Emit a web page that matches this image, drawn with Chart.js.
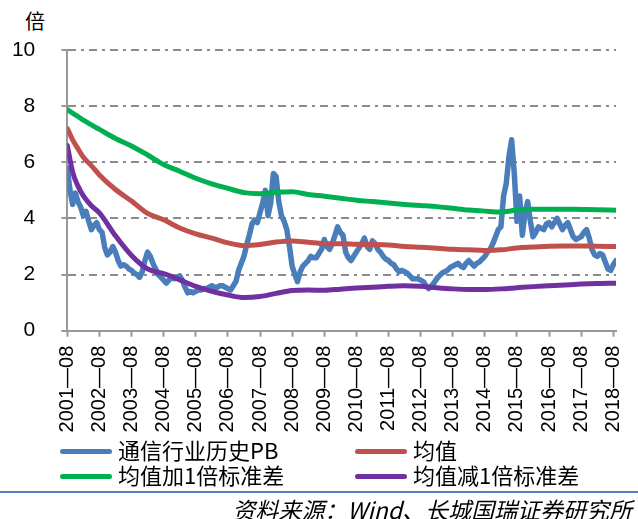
<!DOCTYPE html>
<html lang="zh-CN">
<head>
<meta charset="UTF-8">
<title>通信行业历史PB</title>
<script src="https://cdn.jsdelivr.net/npm/chart.js"></script>
<style>
  body { margin: 0; background: #fff; width: 638px; height: 519px; position: relative; overflow: hidden;
         font-family: "Noto Sans CJK SC", sans-serif; color: #000; }
  #wrap { position: absolute; left: 0; top: 0; width: 638px; height: 440px; }
  .unit { position: absolute; left: 25px; top: 9px; font-size: 20px; line-height: 24px; }
  .item { position: absolute; font-size: 22px; line-height: 24px; white-space: nowrap; }
  .item span { display: inline-block; width: 52px; height: 5px; border-radius: 3px; vertical-align: middle; margin-right: 6px; position: relative; top: -2px; }
  .rule { position: absolute; left: 0; top: 491px; width: 638px; height: 2px; background: #4F81BD; }
  .source { position: absolute; right: 6px; top: 496px; font-size: 23px; line-height: 26px; font-style: italic; }
</style>
</head>
<body>
<div class="unit">倍</div>
<div id="wrap"><canvas id="pbChart" width="638" height="440"></canvas></div>
<div class="item" style="left:60px;top:437px"><span style="background:#4A7EBB"></span>通信行业历史PB</div>
<div class="item" style="left:355px;top:437px"><span style="background:#C0504D"></span>均值</div>
<div class="item" style="left:60px;top:462px"><span style="background:#00B050"></span>均值加1倍标准差</div>
<div class="item" style="left:355px;top:462px"><span style="background:#7030A0"></span>均值减1倍标准差</div>
<div class="rule"></div>
<div class="source">资料来源：Wind、长城国瑞证券研究所</div>

<script>
// x 轴刻度 (每 12 个月一个)
const tickLabels = ['2001—08','2002—08','2003—08','2004—08','2005—08','2006—08','2007—08','2008—08','2009—08',
  '2010—08','2011—08','2012—08','2013—08','2014—08','2015—08','2016—08','2017—08','2018—08'];

// 通信行业历史PB, 2001-08 起按月
const pbValues = [
  5.8, 5.0, 4.5, 4.9, 4.6, 4.4, 4.1, 4.25, 3.9, 3.6, 3.75, 3.85,
  3.6, 3.5, 2.95, 2.7, 2.8, 3.0, 2.8, 2.5, 2.3, 2.35, 2.3, 2.2,
  2.15, 2.05, 2.0, 1.9, 2.1, 2.5, 2.8, 2.65, 2.4, 2.2, 2.0, 1.9,
  1.8, 1.7, 1.8, 1.9, 1.85, 1.9, 1.95, 1.8, 1.55, 1.35, 1.4, 1.35,
  1.4, 1.45, 1.45, 1.5, 1.5, 1.55, 1.6, 1.55, 1.55, 1.6, 1.6, 1.55,
  1.5, 1.45, 1.6, 1.75, 2.15, 2.4, 2.65, 3.05, 3.4, 3.8, 3.95, 3.85,
  4.2, 4.55, 5.0, 4.1, 4.55, 5.6, 5.5, 4.6, 4.1, 3.9, 3.6, 3.0,
  2.3, 2.0, 1.75, 2.1, 2.3, 2.4, 2.5, 2.65, 2.6, 2.6, 2.75, 2.9,
  3.25, 3.0, 2.9, 3.1, 3.4, 3.7, 3.5, 3.4, 2.8, 2.6, 2.5, 2.65,
  2.8, 2.95, 3.1, 3.3, 3.0, 2.9, 3.2, 3.1, 2.9, 2.8, 2.65, 2.55,
  2.5, 2.4, 2.35, 2.2, 2.1, 2.15, 2.1, 2.05, 1.95, 1.85, 1.85, 1.85,
  1.8, 1.75, 1.6, 1.5, 1.6, 1.7, 1.85, 1.95, 2.05, 2.1, 2.15, 2.25,
  2.3, 2.35, 2.4, 2.3, 2.25, 2.4, 2.5, 2.4, 2.3, 2.4, 2.45, 2.55,
  2.65, 2.8, 2.9, 3.1, 3.35, 3.6, 3.7, 4.8, 5.25, 6.2, 6.8, 5.6,
  3.9, 4.8, 3.4, 4.2, 4.6, 3.9, 3.35, 3.5, 3.7, 3.65, 3.6, 3.8,
  3.85, 3.7, 3.85, 4.0, 3.8, 3.6, 3.75, 3.85, 3.6, 3.35, 3.25, 3.3,
  3.35, 3.5, 3.6, 3.3, 2.9, 2.7, 2.65, 2.75, 2.7, 2.45, 2.2, 2.15,
  2.35, 2.5
];

// 均值 / 标准差带 的取样月份 (距 2001-08 的月数)
const bandMonths = [0, 2, 4, 6, 9, 12, 18, 24, 30, 36, 42, 48, 54, 60, 66, 72, 78, 84, 90, 96,
  102, 108, 114, 120, 126, 132, 138, 144, 150, 156, 162, 168, 174, 180, 186, 192, 198, 205];
const meanValues = [7.2, 6.8, 6.48, 6.18, 5.88, 5.55, 5.03, 4.62, 4.18, 3.95, 3.66, 3.45, 3.3, 3.13, 3.03, 3.07, 3.16, 3.2, 3.15, 3.1,
  3.1, 3.08, 3.07, 3.05, 3.0, 2.97, 2.94, 2.9, 2.88, 2.86, 2.88, 2.95, 2.98, 3.01, 3.02, 3.02, 3.01, 3.0];
const upperValues = [7.88, 7.75, 7.63, 7.5, 7.33, 7.17, 6.85, 6.58, 6.26, 5.92, 5.68, 5.43, 5.23, 5.07, 4.92, 4.88, 4.93, 4.95, 4.85, 4.79,
  4.72, 4.65, 4.6, 4.55, 4.5, 4.46, 4.42, 4.36, 4.3, 4.26, 4.23, 4.3, 4.33, 4.33, 4.33, 4.32, 4.31, 4.29];
const lowerValues = [6.6, 5.65, 5.15, 4.8, 4.45, 4.2, 3.38, 2.68, 2.2, 2.03, 1.81, 1.58, 1.4, 1.27, 1.18, 1.22, 1.33, 1.43, 1.45, 1.44,
  1.48, 1.52, 1.55, 1.58, 1.6, 1.58, 1.53, 1.49, 1.47, 1.47, 1.49, 1.53, 1.57, 1.6, 1.63, 1.66, 1.68, 1.69];

const band = vals => bandMonths.map((m, i) => ({ x: m, y: vals[i] }));

function smoothLine(label, vals, color, order) {
  return { label, data: band(vals), borderColor: color, borderWidth: 5, cubicInterpolationMode: 'monotone',
           pointRadius: 0, borderCapStyle: 'round', borderJoinStyle: 'round', order };
}

new Chart(document.getElementById('pbChart'), {
  type: 'line',
  data: {
    datasets: [
      { label: '通信行业历史PB', data: pbValues.map((v, i) => ({ x: i, y: v })), borderColor: '#4A7EBB',
        borderWidth: 5.5, tension: 0, pointRadius: 0, borderCapStyle: 'round', borderJoinStyle: 'round', order: 5 },
      smoothLine('均值', meanValues, '#C0504D', 3),
      smoothLine('均值加1倍标准差', upperValues, '#00B050', 2),
      smoothLine('均值减1倍标准差', lowerValues, '#7030A0', 1)
    ]
  },
  options: {
    responsive: false,
    animation: false,
    layout: { padding: { top: 50, right: 22, left: 0, bottom: 0 } },
    plugins: { legend: { display: false }, tooltip: { enabled: false } },
    scales: {
      x: {
        type: 'linear', min: 0, max: 205,
        afterBuildTicks: s => { s.ticks = tickLabels.map((t, i) => ({ value: i * 12 })); },
        afterFit: s => { s.height = 109.3; s.paddingLeft = 0; s.paddingRight = 0; },
        ticks: { autoSkip: false, maxRotation: 90, minRotation: 90, padding: 9, color: '#000',
                 font: { family: 'Liberation Sans', size: 20 }, callback: (v, i) => tickLabels[i] },
        grid: { drawOnChartArea: false, drawTicks: true, tickLength: 6, tickColor: '#999', tickWidth: 2 },
        border: { color: '#999', width: 2 }
      },
      y: {
        min: 0, max: 10,
        afterFit: s => { s.width = 67.3; },
        ticks: { stepSize: 2, padding: 26, color: '#000', font: { family: 'Liberation Sans', size: 21 } },
        grid: { color: c => c.tick.value === 0 ? 'rgba(0,0,0,0)' : '#8c8c8c', lineWidth: 2,
                tickLength: 6, tickColor: '#999', tickWidth: 2 },
        border: { color: '#999', width: 2, dash: [8, 5, 3, 5] }
      }
    }
  }
});
</script>
</body>
</html>
